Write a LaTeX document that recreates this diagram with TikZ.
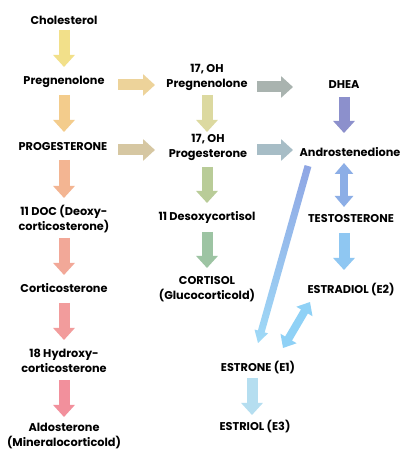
\documentclass[tikz,border=0pt]{standalone}
\usepackage{fontspec}
\setmainfont{Poppins}
\usetikzlibrary{arrows.meta,calc}

\definecolor{cA}{HTML}{F2E08A}
\definecolor{cB}{HTML}{F3CC8C}
\definecolor{cC}{HTML}{F3B592}
\definecolor{cD}{HTML}{F2A898}
\definecolor{cE}{HTML}{F29C9C}
\definecolor{cF}{HTML}{F2909C}
\definecolor{cG}{HTML}{EDD39A}
\definecolor{cH}{HTML}{D6C7A2}
\definecolor{cI}{HTML}{DCD9A0}
\definecolor{cJ}{HTML}{B9CC98}
\definecolor{cK}{HTML}{9DC4A3}
\definecolor{cL}{HTML}{A9B3AF}
\definecolor{cM}{HTML}{A7BDC6}
\definecolor{cN}{HTML}{8C90CC}
\definecolor{cO}{HTML}{8CAEE6}
\definecolor{cP}{HTML}{8FC7F2}
\definecolor{cQtop}{HTML}{8FA6E4}
\definecolor{cQbot}{HTML}{9FDAF7}
\definecolor{cR}{HTML}{8FD1F6}
\definecolor{cS}{HTML}{B5DEF0}

\tikzset{
  hormone/.style={inner sep=0pt, align=center, font=\fontsize{11.3}{15}\selectfont\bfseries},
  blk/.style={line width=11pt, -{Triangle[width=21pt,length=12pt]}},
  dblk/.style={line width=8pt, {Triangle[width=18pt,length=11pt]}-{Triangle[width=18pt,length=11pt]}}
}

\begin{document}
\begin{tikzpicture}[x=1pt,y=1pt]

\useasboundingbox[fill=white] (0,0) rectangle (412,470);

% left column
\node[hormone] (chol) at (64,450) {Cholesterol};
\node[hormone] (preg) at (64,388) {Pregnenolone};
\node[hormone] (prog) at (63,323) {PROGESTERONE};
\node[hormone] (doc) at (64,250.5) {11 DOC (Deoxy-\\corticosterone)};
\node[hormone] (cortico) at (64,182) {Corticosterone};
\node[hormone] (hydroxy) at (64,109.5) {18 Hydroxy-\\corticosterone};
\node[hormone] (aldo) at (64,33.5) {Aldosterone\\(Mineralocorticold)};

% middle column
\node[hormone] (ohpreg) at (207,393) {17, OH\\Pregnenolone};
\node[hormone] (ohprog) at (208,323) {17, OH\\Progesterone};
\node[hormone] (desoxy) at (207,253) {11 Desoxycortisol};
\node[hormone] (cortisol) at (207,180.5) {CORTISOL\\(Glucocorticold)};

% right column
\node[hormone] (dhea) at (344,385) {DHEA};
\node[hormone] (andro) at (350,318) {Androstenedione};
\node[hormone] (testo) at (351,251) {TESTOSTERONE};
\node[hormone] (estradiol) at (351,180) {ESTRADIOL (E2)};
\node[hormone] (estrone) at (258,102) {ESTRONE (E1)};
\node[hormone] (estriol) at (255,43) {ESTRIOL (E3)};

\draw[blk,cA] ([yshift=-10]chol.center) -- ([yshift=15]preg.center);
\draw[blk,cB] ([yshift=-13]preg.center) -- ([xshift=1,yshift=15]prog.center);
\draw[blk,cC] ([xshift=1,yshift=-13]prog.center) -- ([yshift=21.5]doc.center);
\draw[blk,cD] ([yshift=-18.5]doc.center) -- ([yshift=13]cortico.center);
\draw[blk,cE] ([yshift=-15]cortico.center) -- ([yshift=20.5]hydroxy.center);
\draw[blk,cF] ([yshift=-19.5]hydroxy.center) -- ([yshift=19.5]aldo.center);

\draw[blk,cG] ([xshift=54,yshift=-3]preg.center) -- ([xshift=-52,yshift=-8]ohpreg.center);
\draw[blk,cH] ([xshift=55,yshift=-3]prog.center) -- ([xshift=-53,yshift=-3]ohprog.center);

\draw[blk,cI] ([yshift=-18]ohpreg.center) -- ([xshift=-1,yshift=15]ohprog.center);
\draw[blk,cJ] ([xshift=-1,yshift=-20]ohprog.center) -- ([yshift=14]desoxy.center);
\draw[blk,cK] ([yshift=-15]desoxy.center) -- ([yshift=21.5]cortisol.center);

\draw[blk,cL] ([xshift=50,yshift=-10]ohpreg.center) -- ([xshift=-51,yshift=-2]dhea.center);
\draw[blk,cM] ([xshift=49,yshift=-3]ohprog.center) -- ([xshift=-57,yshift=2]andro.center);

\draw[blk,cN] ([yshift=-12]dhea.center) -- ([xshift=-6,yshift=19]andro.center);
\draw[dblk,cO] ([xshift=-6,yshift=-11]andro.center) -- ([xshift=-7,yshift=12]testo.center);
\draw[blk,cP] ([xshift=-7,yshift=-14]testo.center) -- ([xshift=-7,yshift=20]estradiol.center);

% long arrow with a colour gradient
\coordinate (qa) at ([xshift=-42,yshift=-14]andro.center);
\coordinate (qb) at ([yshift=25]estrone.center);
\coordinate (qh) at ($(qb)!12pt!(qa)$);
\shade[top color=cQtop, bottom color=cQbot]
  ($(qa)!3.5pt!90:(qb)$) -- ($(qh)!3.5pt!-90:(qa)$) -- ($(qh)!7pt!-90:(qa)$) -- (qb)
  -- ($(qh)!7pt!90:(qa)$) -- ($(qh)!3.5pt!90:(qa)$) -- ($(qa)!3.5pt!-90:(qb)$) -- cycle;

\draw[dblk,cR] ([xshift=-41,yshift=-12]estradiol.center) -- ([xshift=25,yshift=20]estrone.center);
\draw[blk,cS] ([xshift=-6,yshift=-10]estrone.center) -- ([xshift=-3,yshift=12]estriol.center);

\end{tikzpicture}
\end{document}
